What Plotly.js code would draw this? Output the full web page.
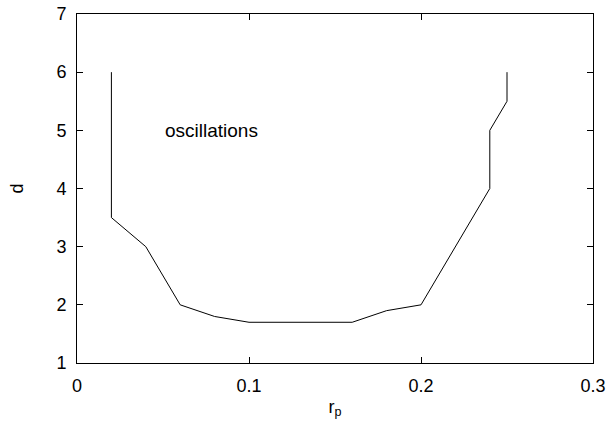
<!DOCTYPE html>
<html>
<head>
<meta charset="utf-8">
<script src="https://cdn.plot.ly/plotly-3.0.1.min.js"></script>
<style>
  html, body { margin: 0; padding: 0; background: #fff; }
  #chart { width: 610px; height: 428px; }
</style>
</head>
<body>
<div id="chart"></div>
<script>
// boundary curve
var rp = [0.02, 0.02, 0.04, 0.06, 0.08, 0.10, 0.16, 0.18, 0.20, 0.24, 0.24, 0.25, 0.25];
var d  = [6.0,  3.5,  3.0,  2.0,  1.8,  1.7,  1.7,  1.9,  2.0,  4.0,  5.0,  5.5,  6.0];

var xTicks = [0, 0.1, 0.2, 0.3];
var xTickText = ['0', '0.1', '0.2', '0.3'];
var yTicks = [1, 2, 3, 4, 5, 6, 7];

var trace1 = {
  x: rp,
  y: d,
  type: 'scatter',
  mode: 'lines',
  line: { color: '#000', width: 1 },
  hoverinfo: 'none'
};

var axisFont = { family: 'Liberation Sans, Arial, sans-serif', size: 18, color: '#000' };

var layout = {
  width: 610,
  height: 428,
  margin: { l: 77, r: 17, t: 14, b: 65 },
  paper_bgcolor: '#fff',
  plot_bgcolor: '#fff',
  showlegend: false,
  font: axisFont,
  xaxis: {
    range: [0, 0.3],
    tickvals: xTicks,
    ticktext: xTickText,
    ticks: 'inside',
    ticklen: 6,
    tickcolor: '#000',
    showline: true,
    linecolor: '#000',
    linewidth: 1,
    mirror: 'ticks',
    showgrid: false,
    zeroline: false,
    ticklabelstandoff: 6,
    tickfont: axisFont,
    title: { text: 'r<sub>p</sub>', font: axisFont, standoff: 5 }
  },
  yaxis: {
    range: [1, 7],
    tickvals: yTicks,
    ticks: 'inside',
    ticklen: 6,
    tickcolor: '#000',
    showline: true,
    linecolor: '#000',
    linewidth: 1,
    mirror: 'ticks',
    showgrid: false,
    zeroline: false,
    ticklabelstandoff: 6,
    tickfont: axisFont,
    title: { text: 'd', font: axisFont, standoff: 28 }
  },
  annotations: [{
    x: 0.078,
    y: 5.0,
    xref: 'x',
    yref: 'y',
    text: 'oscillations',
    showarrow: false,
    font: { family: 'Liberation Sans, Arial, sans-serif', size: 19, color: '#000' }
  }]
};

var config = { staticPlot: true };
Plotly.newPlot('chart', [trace1], layout, config);
</script>
</body>
</html>
